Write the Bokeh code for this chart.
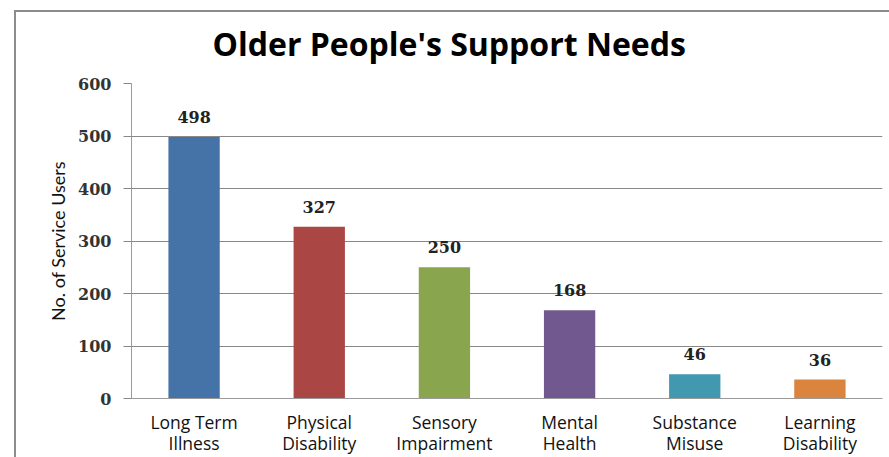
from bokeh.plotting import figure
from bokeh.models import Label, FixedTicker, ColumnDataSource, Range1d, FactorRange, InlineStyleSheet
from bokeh.core.properties import value
from bokeh.embed import file_html
from bokeh.resources import INLINE

categories = ["Long Term\nIllness", "Physical\nDisability", "Sensory\nImpairment",
              "Mental\nHealth", "Substance\nMisuse", "Learning\nDisability"]
counts = [498, 327, 250, 168, 46, 36]
colors = ["#4572A7", "#AA4643", "#89A54E", "#71588F", "#4198AF", "#DB843D"]
y_ticks = [0, 100, 200, 300, 400, 500, 600]

W, H = 889, 457
FL, FB = 131, 398  # frame left / frame bottom on the page
p = figure(width=W, height=H, output_backend="svg", toolbar_location=None,
           x_range=FactorRange(*categories, range_padding=0), y_range=Range1d(0, 600),
           min_border_left=FL, min_border_right=7, min_border_top=83, min_border_bottom=H - FB)
p.frame_width = 751
p.frame_height = 315
p.outline_line_color = None
p.background_fill_color = "white"
p.border_fill_color = None
# thin grey chart-area border (left and top edges visible, the rest runs off the page)
p.stylesheets = [InlineStyleSheet(css=(
    ":host { background-color: white; "
    "background-image: linear-gradient(#8c8c8c, #8c8c8c), linear-gradient(#8c8c8c, #8c8c8c); "
    "background-position: 14px 10px, 14px 10px; "
    "background-size: 2px 447px, 875px 2px; "
    "background-repeat: no-repeat, no-repeat; }"))]

p.title.text = "Older People's Support Needs"
p.title.text_font = "Open Sans"
p.title.text_font_style = "bold"
p.title.text_font_size = "32px"
p.title.text_color = "#000000"
p.title.align = "left"
p.title.offset = 212 - FL
p.title.standoff = 38

src = ColumnDataSource(dict(cat=categories, val=counts, col=colors,
                            lbl=[str(v) for v in counts]))
p.vbar(x="cat", top="val", width=0.41, fill_color="col", line_color=None, source=src)
p.text(x="cat", y="val", text="lbl", source=src, text_align="center",
       text_baseline="bottom", y_offset=-14, text_font=value("DejaVu Serif"),
       text_font_size="16px", text_font_style="bold", text_color="#222222")

p.xgrid.grid_line_color = None
p.ygrid.grid_line_color = "#888888"
p.ygrid.grid_line_width = 1
p.yaxis.ticker = FixedTicker(ticks=y_ticks)
p.yaxis.axis_line_color = "#9a9a9a"
p.yaxis.major_tick_line_color = "#888888"
p.yaxis.major_tick_out = 8
p.yaxis.major_tick_in = 0
p.yaxis.minor_tick_line_color = None
p.yaxis.major_label_text_font = "DejaVu Serif"
p.yaxis.major_label_text_font_style = "bold"
p.yaxis.major_label_text_font_size = "16px"
p.yaxis.major_label_text_color = "#333333"
p.yaxis.major_label_standoff = 12
p.yaxis.axis_label = "No. of Service Users"
p.yaxis.axis_label_text_font = "Lato"
p.yaxis.axis_label_text_font_style = "normal"
p.yaxis.axis_label_text_font_size = "18px"
p.yaxis.axis_label_text_color = "#111111"
p.yaxis.axis_label_standoff = 6

p.xaxis.axis_line_color = "#9a9a9a"
p.xaxis.major_tick_line_color = None
p.xaxis.minor_tick_line_color = None
p.xaxis.major_label_text_font = "Open Sans"
p.xaxis.major_label_text_font_size = "17.5px"
p.xaxis.major_label_text_color = "#111111"
p.xaxis.major_label_standoff = 5
p.xaxis.major_label_text_line_height = 0.9

# screen units here are measured from the frame's bottom-left corner
p.add_layout(Label(x=0 - FL, y=FB - 5, x_units="screen", y_units="screen",
                   text="Figure 16: Support Needs/HIT Snapshot/March2010", text_align="left",
                   text_baseline="alphabetic", text_font="Liberation Sans", text_font_style="bold",
                   text_font_size="18px", text_color="#F7690E"))

open("out.html", "w").write(file_html(p, INLINE))
